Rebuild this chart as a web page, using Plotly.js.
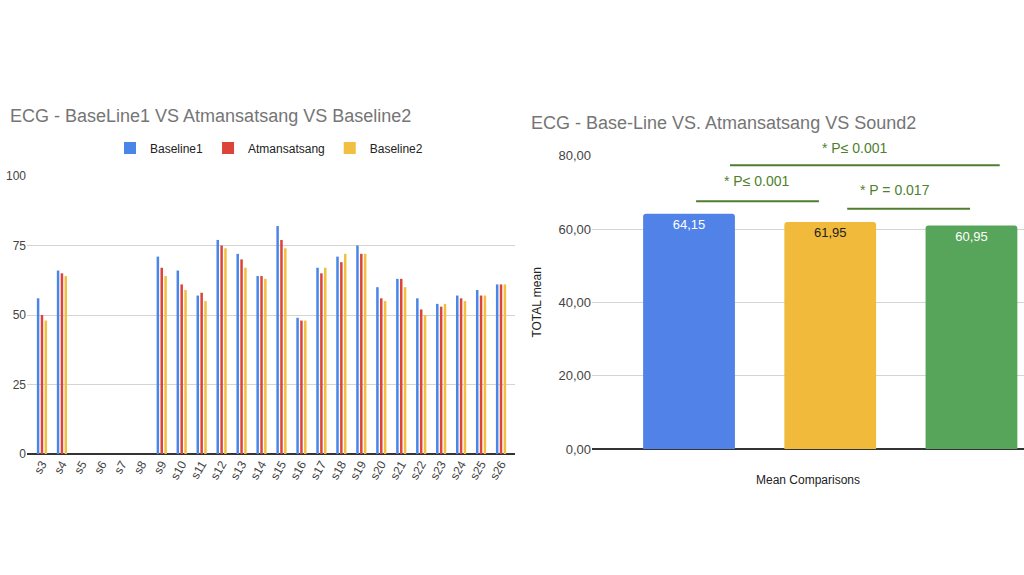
<!DOCTYPE html>
<html>
<head>
<meta charset="utf-8">
<script src="https://cdn.plot.ly/plotly-3.0.1.min.js"></script>
<style>
  html, body { margin: 0; padding: 0; background: #fff; }
  #chart { width: 1024px; height: 575px; }
</style>
</head>
<body>
<div id="chart"></div>
<script>
// ── Data ────────────────────────────────────────────────────────────
const subjects = ["s3", "s4", "s5", "s6", "s7", "s8", "s9", "s10", "s11", "s12", "s13", "s14",
                  "s15", "s16", "s17", "s18", "s19", "s20", "s21", "s22", "s23", "s24", "s25", "s26"];
const baseline1    = [56, 66, null, null, null, null, 71, 66, 57, 77, 72, 64, 82, 49, 67, 71, 75, 60, 63, 56, 54, 57, 59, 61];
const atmansatsang = [50, 65, null, null, null, null, 67, 61, 58, 75, 70, 64, 77, 48, 65, 69, 72, 56, 63, 52, 53, 56, 57, 61];
const baseline2    = [48, 64, null, null, null, null, 64, 59, 55, 74, 67, 63, 74, 48, 67, 72, 72, 55, 60, 50, 54, 55, 57, 61];

const meanGroups = ["Base-Line", "Atmansatsang", "Sound2"];
const meanValues = [64.15, 61.95, 60.95];

// significance brackets, placed in the right chart's axis units
const sigBrackets = [
  { x0: 0.29, x1: 2.20, y: 77.4, textX: 1.17, lift: 7, label: "* P\u2264 0.001" },
  { x0: 0.05, x1: 0.92, y: 67.6, textX: 0.48, lift: 10, label: "* P\u2264 0.001" },
  { x0: 1.12, x1: 1.99, y: 65.5, textX: 1.46, lift: 9, label: "* P = 0.017" },
];

// ── Styling ─────────────────────────────────────────────────────────
const FONT = "Arial, 'Liberation Sans', sans-serif";
const SERIES_COLORS = { b1: "#4a86e8", atm: "#db4437", b2: "#f1bf42" };
const MEAN_COLORS = ["#5082e8", "#f1ba3b", "#57a55a"];
const MEAN_TEXT = ["#ffffff", "#222222", "#ffffff"];
const SIG_GREEN = "#4f7f2e";

const traces = [
  { x: subjects, y: baseline1, name: "Baseline1", type: "bar",
    marker: { color: SERIES_COLORS.b1 }, xaxis: "x", yaxis: "y" },
  { x: subjects, y: atmansatsang, name: "Atmansatsang", type: "bar",
    marker: { color: SERIES_COLORS.atm }, xaxis: "x", yaxis: "y" },
  { x: subjects, y: baseline2, name: "Baseline2", type: "bar",
    marker: { color: SERIES_COLORS.b2 }, xaxis: "x", yaxis: "y" },
  { x: meanGroups, y: meanValues, type: "bar", showlegend: false,
    xaxis: "x2", yaxis: "y2", width: 0.65,
    marker: { color: MEAN_COLORS, cornerradius: 3 },
    texttemplate: "%{y:.2f}", textposition: "inside", insidetextanchor: "end",
    textfont: { color: MEAN_TEXT, size: 13, family: FONT } },
];

const shapes = sigBrackets.map(b => ({
  type: "line", xref: "x2", yref: "y2",
  x0: b.x0, x1: b.x1, y0: b.y, y1: b.y,
  line: { color: SIG_GREEN, width: 2 },
}));

const annotations = [
  { text: "ECG - BaseLine1 VS Atmansatsang VS Baseline2", xref: "paper", yref: "paper",
    x: 8 / 1024, y: 1 - 116 / 575, xanchor: "left", yanchor: "middle", showarrow: false,
    font: { size: 18, color: "#757575", family: FONT } },
  { text: "ECG - Base-Line VS. Atmansatsang VS Sound2", xref: "paper", yref: "paper",
    x: 529 / 1024, y: 1 - 123 / 575, xanchor: "left", yanchor: "middle", showarrow: false,
    font: { size: 18, color: "#757575", family: FONT } },
].concat(sigBrackets.map(b => ({
  text: b.label, xref: "x2", yref: "y2", x: b.textX, y: b.y,
  yanchor: "bottom", yshift: b.lift,
  showarrow: false, font: { size: 14, color: SIG_GREEN, family: FONT },
})));

const layout = {
  width: 1024, height: 575,
  margin: { l: 0, r: 0, t: 0, b: 0 },
  paper_bgcolor: "#fff", plot_bgcolor: "#fff",
  font: { family: FONT, color: "#444", size: 12 },
  separators: ",.",
  barmode: "group", bargap: 0.42, bargroupgap: 0.35,
  showlegend: true,
  legend: {
    orientation: "h", x: 110 / 1024, y: 1 - 148 / 575, xanchor: "left", yanchor: "middle",
    font: { size: 12, color: "#222", family: FONT }, itemwidth: 30,
  },
  xaxis: {
    domain: [27 / 1024, 515 / 1024], anchor: "y", type: "category", range: [-0.75, 23.7],
    tickangle: -60, ticks: "", showgrid: false, showline: false, zeroline: false,
    tickfont: { size: 12, color: "#444" },
  },
  yaxis: {
    domain: [1 - 454 / 575, 1 - 176 / 575], anchor: "x", range: [0, 100], tickvals: [0, 25, 50, 75, 100],
    gridcolor: "#d4d4d4", zeroline: true, zerolinecolor: "#333", zerolinewidth: 1.5,
    ticks: "", tickfont: { size: 12, color: "#444" },
  },
  xaxis2: {
    domain: [592 / 1024, 1], anchor: "y2", type: "category", range: [-0.687, 2.372],
    showticklabels: false, ticks: "", showgrid: false, zeroline: false,
    title: { text: "Mean Comparisons", font: { size: 12, color: "#222" }, standoff: 26 },
  },
  yaxis2: {
    domain: [1 - 449 / 575, 1 - 155.7 / 575], anchor: "x2", range: [0, 80], tickvals: [0, 20, 40, 60, 80],
    tickformat: ".2f", gridcolor: "#d4d4d4", zeroline: true, zerolinecolor: "#333", zerolinewidth: 1.5,
    ticks: "", tickfont: { size: 13, color: "#444" },
    title: { text: "TOTAL mean", font: { size: 12, color: "#222" }, standoff: 14 },
  },
  shapes,
  annotations,
};

Plotly.newPlot("chart", traces, layout, { displayModeBar: false, staticPlot: true });
</script>
</body>
</html>
